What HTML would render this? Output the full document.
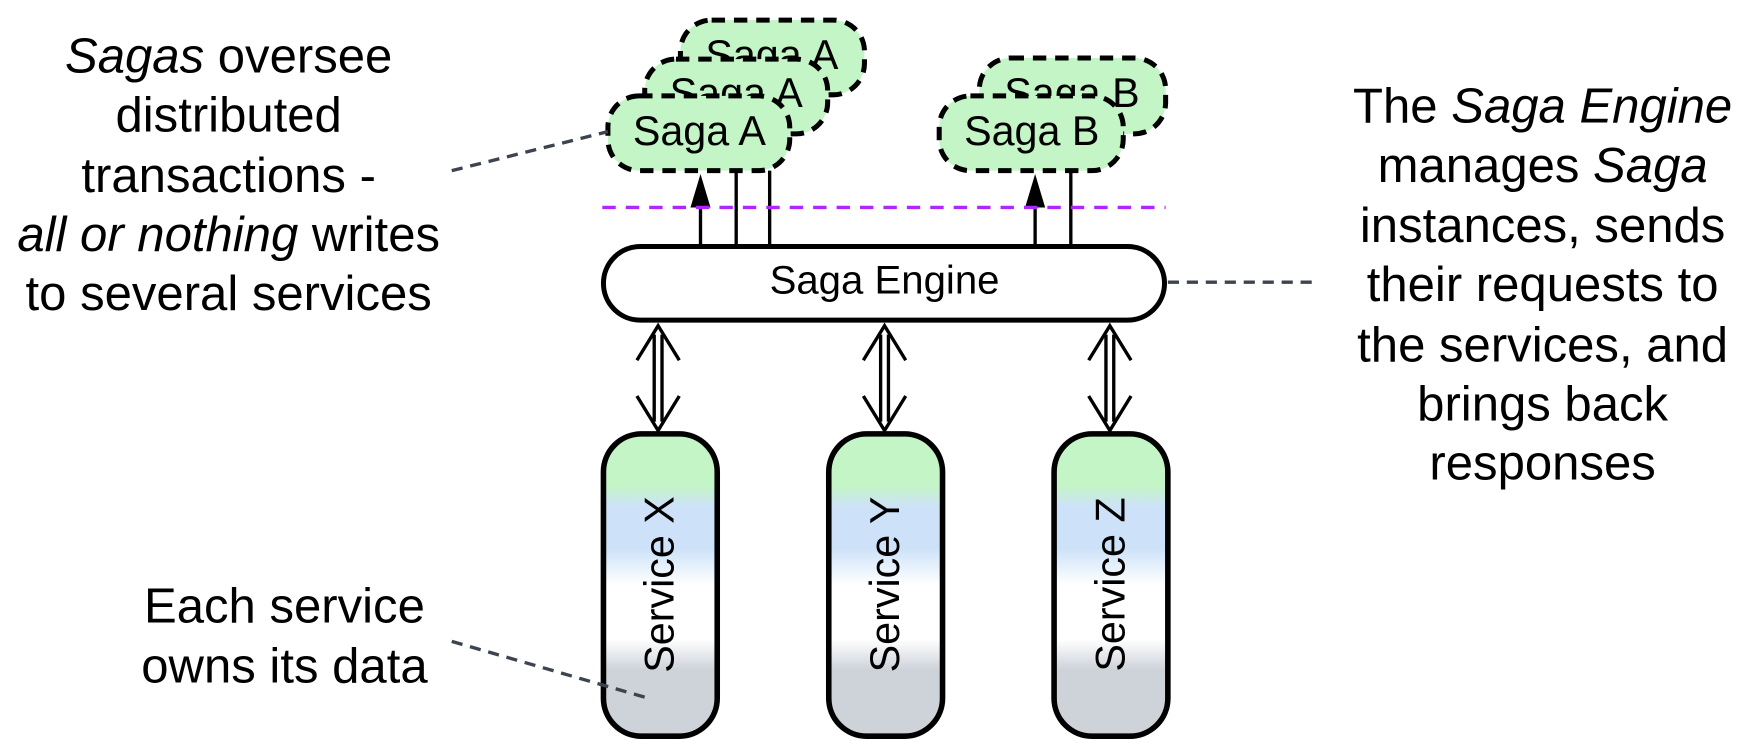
<!DOCTYPE html>
<html><head><meta charset="utf-8"><style>html,body{margin:0;padding:0;background:#fff}svg{display:block}text{font-family:"Liberation Sans",sans-serif;fill:#000}</style></head><body>
<svg width="1749" height="748" viewBox="0 0 1568 670.6" xmlns="http://www.w3.org/2000/svg">
<defs>
<linearGradient id="g" x1="0" y1="0" x2="0" y2="1">
<stop offset="0" stop-color="#c4f5c6"/><stop offset="0.17" stop-color="#c4f5c6"/>
<stop offset="0.24" stop-color="#cde2f8"/><stop offset="0.38" stop-color="#cde2f8"/>
<stop offset="0.5" stop-color="#fff"/><stop offset="0.68" stop-color="#fff"/>
<stop offset="0.78" stop-color="#ced3da"/><stop offset="1" stop-color="#ced3da"/>
</linearGradient>
</defs>
<g font-size="37" text-anchor="middle">
<rect x="610" y="18" width="165" height="67" rx="28" stroke="#000" stroke-width="4.5" stroke-dasharray="12,8" fill="#c4f5c6"/>
<text x="692" y="62">Saga A</text>
<rect x="578" y="53" width="164" height="67" rx="28" stroke="#000" stroke-width="4.5" stroke-dasharray="12,8" fill="#c4f5c6"/>
<text x="660" y="96">Saga A</text>
<rect x="545" y="86" width="163" height="67" rx="28" stroke="#000" stroke-width="4.5" stroke-dasharray="12,8" fill="#c4f5c6"/>
<text x="627" y="130">Saga A</text>
<rect x="878" y="52" width="167" height="68" rx="28" stroke="#000" stroke-width="4.5" stroke-dasharray="12,8" fill="#c4f5c6"/>
<text x="961" y="96">Saga B</text>
<rect x="842" y="86" width="165" height="67" rx="28" stroke="#000" stroke-width="4.5" stroke-dasharray="12,8" fill="#c4f5c6"/>
<text x="925" y="130">Saga B</text>
</g>
<g stroke="#000" stroke-width="3">
<line x1="628" y1="185" x2="628" y2="220"/>
<line x1="660" y1="153" x2="660" y2="220"/>
<line x1="690" y1="153" x2="690" y2="220"/>
<line x1="928" y1="185" x2="928" y2="220"/>
<line x1="960" y1="153" x2="960" y2="220"/>
</g>
<polygon points="628,156 619,186 637,186" fill="#000"/>
<polygon points="928,156 919,186 937,186" fill="#000"/>
<line x1="540" y1="186" x2="1045" y2="186" stroke="#b026ff" stroke-width="3" stroke-dasharray="12,9"/>
<rect x="541" y="221" width="503" height="66" rx="33" fill="#fff" stroke="#000" stroke-width="4.5"/>
<text x="793" y="263" font-size="36" text-anchor="middle">Saga Engine</text>
<g fill="none" stroke="#000" stroke-width="3">
<g id="da">
<line x1="586.5" y1="300" x2="586.5" y2="378"/><line x1="593.5" y1="300" x2="593.5" y2="378"/>
<polyline points="571,323 590,292 609,323"/><polyline points="571,355 590,386 609,355"/>
</g>
<use href="#da" x="203"/><use href="#da" x="405"/>
</g>
<g stroke="#000" stroke-width="5" fill="url(#g)">
<rect x="541" y="389" width="102" height="271" rx="34"/>
<rect x="743" y="389" width="102" height="271" rx="34"/>
<rect x="945" y="389" width="102" height="271" rx="34"/>
</g>
<g font-size="37" text-anchor="middle">
<text transform="translate(604,524) rotate(-90)">Service X</text>
<text transform="translate(806,524) rotate(-90)">Service Y</text>
<text transform="translate(1008,524) rotate(-90)">Service Z</text>
</g>
<g stroke="#3d4450" stroke-width="3" stroke-dasharray="10,7" fill="none">
<line x1="405" y1="153" x2="545" y2="118"/>
<line x1="1047" y1="253" x2="1183" y2="253"/>
<line x1="405" y1="575" x2="578" y2="625"/>
</g>
<g font-size="44" text-anchor="middle">
<text x="205" y="65"><tspan font-style="italic">Sagas</tspan> oversee</text>
<text x="205" y="118">distributed</text>
<text x="205" y="172">transactions -</text>
<text x="205" y="225"><tspan font-style="italic">all or nothing</tspan> writes</text>
<text x="205" y="278">to several services</text>
<text x="255" y="558">Each service</text>
<text x="255" y="612">owns its data</text>
<text x="1383" y="110">The <tspan font-style="italic">Saga Engine</tspan></text>
<text x="1383" y="163">manages <tspan font-style="italic">Saga</tspan></text>
<text x="1383" y="217">instances, sends</text>
<text x="1383" y="270">their requests to</text>
<text x="1383" y="324">the services, and</text>
<text x="1383" y="377">brings back</text>
<text x="1383" y="430">responses</text>
</g>
</svg>
</body></html>
